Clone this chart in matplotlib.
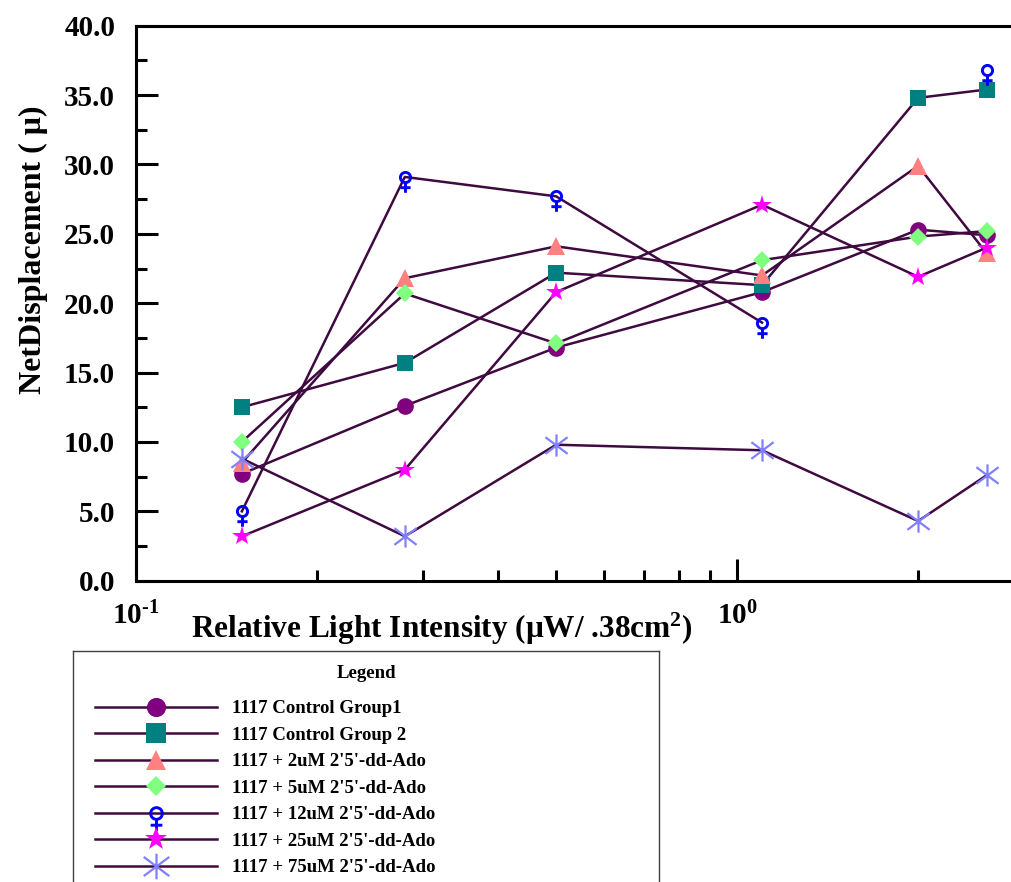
import numpy as np
import matplotlib
matplotlib.use('Agg')
import matplotlib.pyplot as plt
from matplotlib.path import Path
from matplotlib.ticker import FixedLocator, FixedFormatter, NullFormatter, FormatStrFormatter

plt.rcParams['font.family'] = ['Liberation Serif', 'DejaVu Serif']
plt.rcParams['font.weight'] = 'bold'
plt.rcParams['mathtext.fontset'] = 'custom'
plt.rcParams['mathtext.rm'] = 'Liberation Serif:bold'
plt.rcParams['mathtext.bf'] = 'Liberation Serif:bold'
plt.rcParams['mathtext.it'] = 'Liberation Serif:bold'

# light intensity (x) and net displacement per group
intensity = [0.15, 0.28, 0.5, 1.1, 2.0, 2.6]
control1 = [7.7, 12.6, 16.8, 20.8, 25.3, 24.9]
control2 = [12.5, 15.7, 22.2, 21.3, 34.8, 35.4]
ado_2uM = [8.5, 21.8, 24.1, 22.0, 29.9, 23.6]
ado_5uM = [10.0, 20.7, 17.1, 23.1, 24.8, 25.2]
ado_12uM = [5.0, 29.1, 27.7, 18.6, np.nan, 36.8]
ado_25uM = [3.2, 8.0, 20.8, 27.1, 21.9, 24.0]
ado_75uM = [8.8, 3.2, 9.8, 9.4, 4.3, 7.6]

series_labels = ['1117 Control Group1', '1117 Control Group 2',
                 "1117 + 2uM 2'5'-dd-Ado", "1117 + 5uM 2'5'-dd-Ado",
                 "1117 + 12uM 2'5'-dd-Ado", "1117 + 25uM 2'5'-dd-Ado",
                 "1117 + 75uM 2'5'-dd-Ado"]
y_ticks = [0, 5, 10, 15, 20, 25, 30, 35, 40]
x_major = [0.1, 1.0]
x_major_labels = ['$10^{\\text{-}1}$', '$10^{0}$']

# custom markers: venus symbol and 6-armed asterisk
M, L = Path.MOVETO, Path.LINETO
venus = Path.make_compound_path(
    Path.circle((0, 0), 0.5),
    Path([(0, -0.5), (0, -1.5), (-0.5, -1.0), (0.5, -1.0)], [M, L, M, L]))
star6 = Path([(0, 1), (0, -1), (-1, 0.75), (1, -0.75), (-1, -0.75), (1, 0.75)],
             [M, L, M, L, M, L])

line_col = '#3f0a3f'
styles = [
    dict(marker='o', ms=12, mfc='#800080', mec='#800080', mew=0),
    dict(marker='s', ms=12, mfc='#008080', mec='#008080', mew=0),
    dict(marker='^', ms=13, mfc='#ff8080', mec='#ff8080', mew=0),
    dict(marker='D', ms=9.2, mfc='#80ff80', mec='#80ff80', mew=0),
    dict(marker=venus, ms=22, mfc='none', mec='#0000ff', mew=2.1),
    dict(marker='*', ms=15, mfc='#ff00ff', mec='#ff00ff', mew=0),
    dict(marker=star6, ms=16, mfc='none', mec='#8080ff', mew=1.6),
]
all_series = [control1, control2, ado_2uM, ado_5uM, ado_12uM, ado_25uM, ado_75uM]

W, H = 1012, 882
fig = plt.figure(figsize=(W / 100, H / 100), dpi=100)
ax = fig.add_axes([136 / W, 1 - 580.7 / H, (1024 - 136) / W, (580.7 - 25.7) / H])

handles = []
for vals, st, lab in zip(all_series, styles, series_labels):
    h, = ax.plot(intensity, vals, color=line_col, lw=1.8, label=lab, **st)
    handles.append(h)

ax.set_xscale('log')
ax.set_xlim(0.1, 3.0)
ax.set_ylim(0, 40)
ax.xaxis.set_major_locator(FixedLocator(x_major))
ax.xaxis.set_major_formatter(FixedFormatter(x_major_labels))
ax.xaxis.set_minor_locator(FixedLocator([0.2, 0.3, 0.4, 0.5, 0.6, 0.7, 0.8, 0.9, 2.0, 3.0]))
ax.xaxis.set_minor_formatter(NullFormatter())
ax.yaxis.set_major_locator(FixedLocator(y_ticks))
ax.yaxis.set_minor_locator(FixedLocator([t + 2.5 for t in y_ticks[:-1]]))
ax.yaxis.set_major_formatter(FormatStrFormatter('%.1f'))

for s in ax.spines.values():
    s.set_linewidth(2.2)
ax.tick_params(which='major', direction='in', length=16, width=2.2, labelsize=21)
ax.tick_params(which='minor', direction='in', length=8, width=2.2)
ax.tick_params(axis='y', which='major', pad=15)
ax.tick_params(axis='x', which='major', pad=15)

fig.text(442 / W, 1 - 638 / H, 'Relative Light Intensity (\u03bcW/ .38cm$^2$)',
         ha='center', va='baseline', fontsize=22.5, fontweight='bold')
fig.text(33 / W, 1 - 250 / H, 'NetDisplacement ( \u03bc)', rotation=90,
         ha='center', va='center', fontsize=23, fontweight='bold')

# legend box below the plot
lax = fig.add_axes([73 / W, 1 - 900 / H, (659 - 73) / W, (900 - 651) / H])
lax.set_xticks([])
lax.set_yticks([])
for s in lax.spines.values():
    s.set_linewidth(1.0)
    s.set_edgecolor('#404040')
fig.text(367 / W, 1 - 673 / H, 'Legend', ha='center', va='center',
         fontsize=13.5, fontweight='bold')
lax.legend(handles=handles, loc='upper left', bbox_to_anchor=(95 / W, 1 - 700 / H),
           bbox_transform=fig.transFigure, frameon=False, borderpad=0,
           borderaxespad=0, handlelength=6.5, handletextpad=0.8,
           labelspacing=0.5, numpoints=1, markerscale=1.15,
           prop={'size': 13.5, 'weight': 'bold'})

fig.savefig('out.png', dpi=100)
